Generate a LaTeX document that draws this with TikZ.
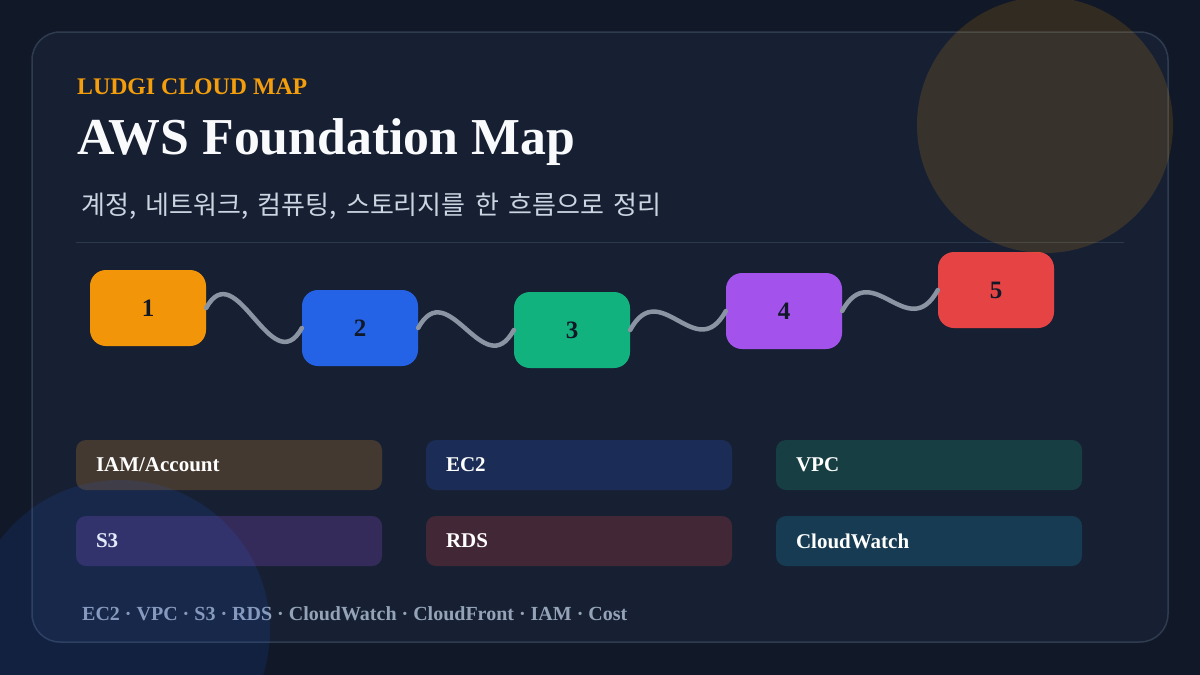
\documentclass[tikz,border=0pt]{standalone}
\usepackage{fontspec}
\setmainfont{Liberation Serif}
\newfontfamily\korfont[WordSpace=1.6]{Noto Sans CJK KR}
\definecolor{bgc}{HTML}{111827}
\definecolor{panelc}{HTML}{172033}
\definecolor{panelline}{HTML}{2F3C50}
\definecolor{sepline}{HTML}{2D3A4D}
\definecolor{kick}{HTML}{F59E0B}
\definecolor{titlec}{HTML}{F8FAFC}
\definecolor{subc}{HTML}{CBD5E1}
\definecolor{footc}{HTML}{94A3B8}
\definecolor{wavec}{HTML}{8A94A3}
\definecolor{numc}{HTML}{111827}
\definecolor{cA}{HTML}{F39508}
\definecolor{cB}{HTML}{2563E6}
\definecolor{cC}{HTML}{11B27E}
\definecolor{cD}{HTML}{A353EC}
\definecolor{cE}{HTML}{E54344}
\definecolor{sIAM}{HTML}{433930}
\definecolor{sEC}{HTML}{1B2D57}
\definecolor{sVPC}{HTML}{173E42}
\definecolor{sS}{HTML}{342B5A}
\definecolor{sRDS}{HTML}{422736}
\definecolor{sCW}{HTML}{163B52}
\definecolor{orbA}{HTML}{F59E0B}
\definecolor{orbB}{HTML}{2563EB}
\begin{document}
\begin{tikzpicture}[x=1pt,y=-1pt,
  stepbox/.style={rounded corners=16pt, minimum width=116pt, minimum height=76pt, inner sep=0pt,
    text=numc, font=\bfseries\fontsize{25}{28}\selectfont},
  svcbox/.style={rounded corners=10pt, minimum height=50pt, text width=266pt, inner xsep=20pt, inner ysep=0pt,
    align=left, text=white, font=\bfseries\fontsize{21}{24}\selectfont},
  wave/.style={draw=wavec, line width=4.5pt, line cap=round}]
\useasboundingbox (0,0) rectangle (1200,675);
\fill[bgc] (0,0) rectangle (1200,675);
\draw[panelline, fill=panelc, line width=1.5pt, rounded corners=28pt] (32,32) rectangle (1168,642);
% separator
\draw[sepline, line width=1pt] (76,242) -- (1124,242);
% texts
\node[anchor=base west, inner sep=0pt, text=kick, font=\bfseries\fontsize{23.8}{26}\selectfont] (kicker) at (77,94) {LUDGI CLOUD MAP};
\node[anchor=base west, inner sep=0pt, text=titlec, font=\bfseries\fontsize{51.8}{56}\selectfont] (title) at (77,154) {AWS Foundation Map};
\node[anchor=base west, inner sep=0pt, text=subc, font=\korfont\fontsize{26}{30}\selectfont] (sub) at (81,214) {계정, 네트워크, 컴퓨팅, 스토리지를 한 흐름으로 정리};
% step boxes
\node[stepbox, fill=cA] (b1) at (148,308) {1};
\node[stepbox, fill=cB] (b2) at (360,328) {2};
\node[stepbox, fill=cC] (b3) at (572,330) {3};
\node[stepbox, fill=cD] (b4) at (784,311) {4};
\node[stepbox, fill=cE] (b5) at (996,290) {5};
% wavy connectors
\draw[wave] (b1.east) .. controls +(30,-55) and +(-30,55) .. (b2.west);
\draw[wave] (b2.east) .. controls +(30,-55) and +(-30,55) .. (b3.west);
\draw[wave] (b3.east) .. controls +(30,-55) and +(-30,55) .. (b4.west);
\draw[wave] (b4.east) .. controls +(30,-55) and +(-30,55) .. (b5.west);
% service boxes
\node[svcbox, fill=sIAM] (iam) at (229,465) {IAM/Account};
\node[svcbox, fill=sEC] (ec2) at (579,465) {EC2};
\node[svcbox, fill=sVPC] (vpc) at (929,465) {VPC};
\node[svcbox, fill=sS] (s3) at (229,541) {S3};
\node[svcbox, fill=sRDS] (rds) at (579,541) {RDS};
\node[svcbox, fill=sCW] (cw) at (929,541) {CloudWatch};
% footer
\node[anchor=base west, inner sep=0pt, text=footc, font=\bfseries\fontsize{20}{22}\selectfont] (foot) at (82,620) {EC2 · VPC · S3 · RDS · CloudWatch · CloudFront · IAM · Cost};
% decorative orbs
\fill[orbA, opacity=0.15] (1045,125) circle[radius=128pt];
\fill[orbB, opacity=0.13] (120,630) circle[radius=150pt];
\end{tikzpicture}
\end{document}
